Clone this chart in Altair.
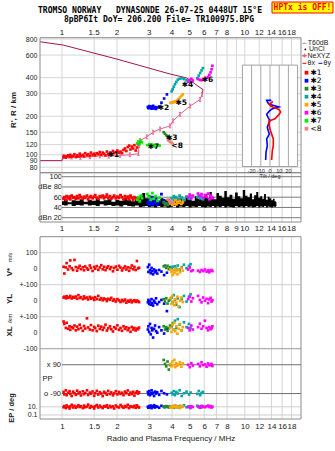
import altair as alt
import numpy as np
import pandas as pd

# ---------------- canvas layout (pixels) ----------------
W, H = 335, 451
X_LEFT, X_RIGHT = 40, 301
ION_TOP, ION_BOT = 37.7, 172.7
AMP_TOP, AMP_BOT = 172.7, 222.0
LOW_TOP, LOW_BOT = 236.7, 419.0

# ---------------- scale domains ----------------
F_MIN, F_MAX = 0.758, 20.3      # MHz
H_MIN, H_MAX = 72.5, 820.0      # km
A_MIN, A_MAX = 11.6, 107.8      # dB
T_MIN, T_MAX = 0.0, 11.39       # strip track units (1 unit = 100 m/s)

FREQ_TICKS = [1, 1.5, 2, 3, 4, 5, 6, 7, 8, 10, 12, 14, 16, 18]
FREQ_TICKS_AMP = [1, 1.5, 2, 3, 4, 5, 6, 7, 8, 9, 10, 12, 14, 16, 18]
HEIGHT_TICKS = [80, 90, 100, 120, 150, 200, 300, 400, 600, 800]
AMP_TICKS = [20, 40, 60, 80, 100]
TILT_TICKS = [-20, -10, 0, 10, 20]
STRIP_TICKS = [1, 2, 3, 4, 5, 6, 7, 10.63, 11.14]
STRIP_LABELS = ["100", "0", "+-100", "0", "+-100", "0", "-100", "10.", "0.1"]

# strip baselines
ROW_VSTAR, ROW_YL, ROW_XL, ROW_PP = 2.0, 4.0, 6.0, 8.9
EP_BASE, EP_DECADE = 11.14, 0.255

# ---------------- echo clusters ----------------
CLUSTER_NAMES = ["✱1", "✱2", "✱3", "✱4", "✱5", "✱6", "✱7", "<8"]
CLUSTER_COLORS = ["#ff0000", "#0000ff", "#238b23", "#00a5a5",
                  "#ffa500", "#ff00ff", "#00ee00", "#f08080"]

E1_FREQ = [1.02, 1.03, 1.05, 1.06, 1.08, 1.10, 1.11, 1.13, 1.15, 1.17,
           1.19, 1.21, 1.23, 1.25, 1.27, 1.30, 1.32, 1.34, 1.37, 1.39,
           1.42, 1.44, 1.47, 1.50, 1.52, 1.55, 1.58, 1.61, 1.64, 1.67,
           1.70, 1.73, 1.76, 1.79, 1.83, 1.86, 1.90, 1.93, 1.97, 2.01,
           2.05, 2.09, 2.13, 2.17, 2.21, 2.25, 2.29, 2.33, 2.37, 2.41,
           2.45, 2.49, 2.53, 2.57, 2.61, 2.64]
E1_HEIGHT = [96, 98, 95, 97, 99, 96, 100, 97, 98, 101,
             96, 99, 97, 102, 98, 100, 97, 103, 99, 101,
             98, 104, 100, 102, 99, 103, 101, 105, 100, 104,
             102, 99, 106, 101, 104, 102, 107, 103, 105, 108,
             104, 106, 103, 109, 112, 107, 115, 118, 110, 116,
             112, 119, 108, 114, 121, 126]
E1_DBE = [57, 60, 55, 62, 58, 61, 56, 63, 59, 60,
          57, 62, 58, 64, 60, 57, 61, 59, 63, 56,
          60, 62, 58, 61, 64, 59, 57, 62, 60, 63,
          58, 61, 65, 59, 62, 57, 60, 63, 58, 61,
          59, 64, 60, 56, 62, 58, 61, 57, 63, 59,
          55, 60, 58, 56, 59, 57]
E1_VSTAR = [12, -30, 8, 35, -5, 15, 52, 3, -8, 55,
            10, -12, 6, 18, -3, 9, -10, 14, 2, -6,
            20, 5, -14, 11, 0, 16, -7, 8, 22, -4,
            12, -9, 6, 15, -2, 10, -16, 4, 13, -6,
            18, 7, -11, 3, 14, -5, 9, -13, 5, 20,
            -3, 11, -8, 48, 2, 6]
E1_YL = [20, 25, 15, 28, 18, 22, 30, 14, 24, 19,
         26, 12, 35, 17, 22, 10, 27, 15, 20, 8,
         24, 13, 18, 5, 22, 10, 30, 7, 16, 3,
         14, 9, -2, 12, 6, 18, 0, 8, -5, 10,
         2, -8, 5, -3, 7, -12, 0, -6, 4, -10,
         -2, 3, -7, 1, -4, -9]
E1_XL = [70, 55, 30, 62, 25, 40, 18, 35, 28, 45,
         15, 38, 22, 50, 30, 12, 42, 26, 90, 33,
         20, 48, 15, 36, 28, 10, 44, 24, 38, 18,
         32, 50, 14, 28, 40, 22, 8, 35, 26, 46,
         18, 30, 12, 40, 24, 34, 16, 28, 6, 36,
         20, 30, 14, 26, 22, 32]
E1_PP = [-80, -95, -70, -100, -85, -75, -92, -105, -78, -88,
         -98, -72, -90, -82, -102, -76, -94, -86, -70, -99,
         -84, -91, -77, -104, -88, -73, -96, -81, -90, -106,
         -79, -87, -97, -74, -93, -83, -101, -89, -75, -95,
         -80, -92, -85, -100, -78, -88, -71, -97, -84, -93,
         -79, -103, -86, -76, -90, -82]
E1_EP = [8, 15, 5, 22, 10, 4, 12, 30, 7, 18,
         6, 11, 25, 9, 14, 5, 20, 8, 12, 35,
         6, 16, 10, 4, 13, 27, 7, 19, 9, 5,
         15, 11, 24, 6, 17, 8, 13, 4, 21, 10,
         7, 28, 12, 6, 16, 9, 32, 5, 14, 11,
         8, 18, 6, 23, 10, 7]

E2_FREQ = [2.95, 2.97, 3.00, 3.03, 3.06, 3.09, 3.12, 3.15, 3.19, 3.23, 3.27, 3.32, 3.40, 3.50, 3.62, 3.75]
E2_HEIGHT = [236, 231, 240, 233, 238, 229, 235, 241, 230, 236, 228, 234, 238, 255, 275, 296]
E2_DBE = [50, 47, 55, 45, 52, 48, 60, 46, 53, 49, 57, 45, 51, 66, 54, 48]
E2_VSTAR = [10, -20, 25, -10, -28, 5, -15, -35, -5, -22, -12, -30, -8, -18, -40, -25]
E2_YL = [-10, 5, -20, -5, -25, 10, -15, -30, 0, -12, 15, -22, -8, 5, -18, -65]
E2_XL = [20, 40, 5, 55, -10, 30, 15, -30, 25, 45, 10, 0, 35, 15, -5, 25]
E2_PP = [-80, -95, -75, -100, -88, -70, -92, -85, -105, -78, -90, -82, -98, -74, -88, -95]
E2_EP = [10, 6, 15, 8, 20, 5, 12, 9, 25, 7, 14, 11, 6, 18, 9, 13]

E3_FREQ = [3.60, 3.66, 3.72, 3.78, 3.84, 3.90]
E3_HEIGHT = [150, 146, 142, 139, 136, 133]
E3_DBE = [50, 46, 48, 45, 47, 49]
E3_VSTAR = [15, 20, 5, 18, -3, 10]
E3_YL = [10, -5, 15, -18, 0, 8]
E3_XL = [40, 20, 35, 12, 28, 45]
E3_PP = [120, 95, 80, 110, 60, 88]
E3_EP = [12, 8, 15, 10, 7, 14]

E4_FREQ = [3.98, 4.03, 4.09, 4.15, 4.22, 4.30, 4.40, 4.52, 4.65, 4.80, 4.95, 5.05, 5.50, 5.60, 5.70, 5.80, 5.90]
E4_HEIGHT = [313, 325, 340, 355, 370, 385, 392, 396, 390, 382, 376, 372, 396, 415, 435, 455, 475]
E4_DBE = [58, 55, 62, 57, 60, 56, 63, 59, 55, 61, 57, 62, 60, 63, 58, 61, 56]
E4_VSTAR = [5, 12, -8, 15, 0, 20, -5, 10, 25, 3, 18, 28, None, None, None, None, None]
E4_YL = [20, -10, 35, 5, -25, 15, -40, 10, 30, -5, 25, 40, None, None, None, None, None]
E4_XL = [40, 60, 20, 75, 30, 85, 50, 15, 65, 35, 55, 30, None, None, None, None, None]
E4_PP = [-85, -95, -75, -100, -80, -90, -70, -105, -88, -78, -96, -84, -92, -74, -100, -86, -80]
E4_EP = [9, 14, 6, 20, 11, 7, 16, 10, 25, 8, 13, 5, 18, 9, 12, 7, 15]

E5_FREQ = [3.92, 3.97, 4.02, 4.07, 4.12, 4.17, 4.22, 4.28, 4.34, 4.42, 4.50, 4.58]
E5_HEIGHT = [254, 256, 255, 258, 260, 259, 262, 265, 272, 280, 288, 296]
E5_DBE = [48, 52, 45, 50, 47, 54, 46, 51, 49, 53, 47, 50]
E5_VSTAR = [-5, -20, -40, -10, -28, 0, -15, -35, -8, -22, 5, -12]
E5_YL = [15, -20, 30, -5, -28, 10, -12, 25, -35, 0, 20, -8]
E5_XL = [30, 5, 50, 20, 62, 10, 40, -6, 25, 55, 15, 35]
E5_PP = [95, 80, 110, 88, 120, 75, 100, 85, 92, 105, 78, 98]
E5_EP = [8, 12, 6, 15, 10, 20, 7, 13, 9, 5, 16, 11]

E6_FREQ = [4.90, 5.00, 5.10, 5.20, 5.55, 5.68, 5.80, 5.92, 6.05, 6.18, 6.30, 6.40, 6.50, 6.58, 6.65]
E6_HEIGHT = [372, 385, 392, 380, 390, 385, 382, 388, 392, 398, 405, 420, 440, 465, 495]
E6_DBE = [60, 65, 58, 63, 67, 62, 66, 59, 64, 61, 67, 56, 63, 60, 58]
E6_VSTAR = [-5, 8, -15, -10, -12, -20, -8, -15, -5, -18, -10, -22, -12, -8, -15]
E6_YL = [10, 25, -5, 15, 30, 5, -10, 20, 0, 12, -15, 8, 18, -5, 3]
E6_XL = [30, 15, 45, 20, 35, 56, 25, 40, 75, 30, 15, 35, 22, 28, 40]
E6_PP = [90, 75, 100, 85, 95, 80, 105, 88, 92, 78, 98, 86, 90, 95, 82]
E6_EP = [10, 7, 14, 9, 12, 6, 16, 11, 8, 13, 20, 9, 15, 7, 11]

E7_FREQ = [2.58, 2.62, 2.66, 2.70, 2.74, 2.93, 3.00, 3.06, 3.12, 3.18, 3.25, 3.33, 3.42]
E7_HEIGHT = [123, 127, 121, 129, 125, 119, 121, 117, 120, 118, 116, 119, 118]
E7_DBE = [55, 60, 52, 63, 58, 66, 60, 55, 68, 57, 62, 53, 59]

E8_FREQ = [3.80, 3.86, 3.92, 3.98, 4.04]
E8_HEIGHT = [130, 128, 126, 124, 122]
E8_DBE = [55, 52, 50, 53, 49]

# cluster tags placed beside each trace
TAG_FREQ = [1.87, 3.51, 3.90, 4.75, 4.39, 6.12, 3.10, 4.17]
TAG_HEIGHT = [98.8, 230, 136, 353, 255, 381, 115, 118]

# ---------------- profiles ----------------
PROFILE_HI_FREQ = [0.758, 1.013, 2.0, 3.90, 4.81, 5.55, 5.91, 5.84]
PROFILE_HI_HEIGHT = [762, 719, 558, 427, 398, 343, 323, 296]
PROFILE_LO_FREQ = [0.758, 1.0, 1.01]
PROFILE_LO_HEIGHT = [90, 90, 96.5]
NEXYZ_FREQ = [1.01, 1.13, 1.26, 1.42, 1.61, 1.80, 2.08, 2.35, 2.62, 2.64,
              2.67, 2.91, 3.15, 3.44, 3.90, 4.05, 4.42, 5.02, 5.69, 5.84]
NEXYZ_HEIGHT = [96.5, 96, 95.5, 96.5, 98, 97.5, 99, 100, 102, 118,
                129, 138, 150, 159, 168, 184, 207, 240, 270, 296]

# ---------------- tilt inset ----------------
TILT_X_HEIGHT = [91, 108, 118, 133, 145, 158, 168, 184, 187, 191, 203, 216, 224, 230, 235, 240, 248, 255, 262]
TILT_X_DEG = [1.8, 2.5, 3.6, 3.6, 1.8, 0.0, -0.8, -1.1, 1.8, 5.4, 9.0, 11.6, 10.1, 7.3, 3.6, 0.8, -0.8, 1.8, 2.9]
TILT_Y_HEIGHT = [91, 105, 118, 133, 145, 155, 164, 175, 184, 195, 207, 218, 227, 232, 236, 240, 248, 256, 266, 266]
TILT_Y_DEG = [-4.7, -4.3, -2.9, -3.6, -0.8, -2.0, -2.9, -1.5, 0.0, -2.0,
              -3.6, -1.0, 1.8, 5.0, 9.5, 6.0, -0.8, -2.5, -3.6, 1.5]
INSET_TILT = (-30, 30)
INSET_HEIGHT = (81, 501)
INSET_PX = (242.4, 297.6)

# ---------------- amplitude noise trace ----------------
NOISE_FREQ = [1.00, 1.05, 1.10, 1.16, 1.22, 1.28, 1.35, 1.42, 1.49, 1.57,
              1.65, 1.73, 1.82, 1.91, 2.01, 2.11, 2.22, 2.33, 2.45, 2.57,
              2.70, 2.80, 2.90, 3.00, 3.12, 3.25, 3.38, 3.52, 3.66, 3.81,
              3.96, 4.12, 4.29, 4.46, 4.64, 4.83, 5.02, 5.22, 5.43, 5.65,
              5.88, 6.10, 6.30, 6.50, 6.70, 6.90, 7.10, 7.35, 7.60, 7.85,
              8.10, 8.40, 8.70, 9.00, 9.30, 9.60, 9.90, 10.2, 10.5, 10.8,
              11.1, 11.4, 11.7, 12.0, 12.3, 12.6, 12.9, 13.2, 13.5, 13.8,
              14.1, 14.4, 14.7, 14.9]
NOISE_TOP = [52, 55, 50, 54, 53, 56, 51, 55, 53, 57,
             52, 54, 56, 51, 55, 53, 58, 54, 52, 56,
             62, 68, 58, 64, 55, 60, 52, 58, 54, 57,
             53, 56, 54, 58, 52, 60, 56, 53, 62, 57,
             55, 66, 58, 70, 61, 56, 68, 63, 59, 72,
             60, 65, 57, 69, 62, 58, 74, 63, 60, 67,
             56, 64, 70, 59, 62, 57, 66, 55, 61, 58,
             54, 57, 52, 50]
NOISE_BOTTOM = [45, 44, 46, 43, 45, 44, 46, 44, 45, 43,
                46, 44, 45, 43, 44, 42, 45, 43, 42, 44,
                41, 42, 43, 41, 42, 40, 43, 41, 42, 40,
                41, 43, 40, 42, 41, 43, 40, 42, 41, 43,
                41, 40, 42, 41, 43, 40, 42, 41, 43, 40,
                42, 41, 40, 43, 41, 42, 40, 43, 41, 42,
                40, 41, 43, 40, 42, 41, 43, 40, 42, 41,
                40, 42, 41, 43]

# ---------------- styling ----------------
FONT = "Liberation Sans"
MONO = "DejaVu Sans Mono"
SYMF = "DejaVu Sans"
TXT = "#202020"
GRID = "#d6d6d6"
FRAME = "#8a8a8a"
MAROON = "#a3164e"
PINK = "#e2628c"


def freq_at(px):
    frac = (px - X_LEFT) / (X_RIGHT - X_LEFT)
    return F_MIN * (F_MAX / F_MIN) ** frac


INSET_F0, INSET_F1 = freq_at(INSET_PX[0]), freq_at(INSET_PX[1])


def tilt_to_freq(t):
    lo, hi = np.log10(INSET_F0), np.log10(INSET_F1)
    span = INSET_TILT[1] - INSET_TILT[0]
    return 10 ** (lo + (np.asarray(t, dtype=float) - INSET_TILT[0]) / span * (hi - lo))


def echo_table(name, freq, height, dbe, vstar=None, yl=None, xl=None, pp=None, ep=None):
    n = len(freq)
    blank = [None] * n
    return pd.DataFrame({
        "cluster": name, "freq": freq, "h": height, "dbe": dbe,
        "vstar": vstar or blank, "yl": yl or blank, "xl": xl or blank,
        "pp": pp or blank, "ep": ep or blank,
    })


echoes = pd.concat([
    echo_table("✱1", E1_FREQ, E1_HEIGHT, E1_DBE, E1_VSTAR, E1_YL, E1_XL, E1_PP, E1_EP),
    echo_table("✱2", E2_FREQ, E2_HEIGHT, E2_DBE, E2_VSTAR, E2_YL, E2_XL, E2_PP, E2_EP),
    echo_table("✱3", E3_FREQ, E3_HEIGHT, E3_DBE, E3_VSTAR, E3_YL, E3_XL, E3_PP, E3_EP),
    echo_table("✱4", E4_FREQ, E4_HEIGHT, E4_DBE, E4_VSTAR, E4_YL, E4_XL, E4_PP, E4_EP),
    echo_table("✱5", E5_FREQ, E5_HEIGHT, E5_DBE, E5_VSTAR, E5_YL, E5_XL, E5_PP, E5_EP),
    echo_table("✱6", E6_FREQ, E6_HEIGHT, E6_DBE, E6_VSTAR, E6_YL, E6_XL, E6_PP, E6_EP),
    echo_table("✱7", E7_FREQ, E7_HEIGHT, E7_DBE),
    echo_table("<8", E8_FREQ, E8_HEIGHT, E8_DBE),
], ignore_index=True)
for col in ["vstar", "yl", "xl", "pp", "ep"]:
    echoes[col] = pd.to_numeric(echoes[col])

# parameter strips stacked on one track axis
strip_parts = []
for col, base in [("vstar", ROW_VSTAR), ("yl", ROW_YL), ("xl", ROW_XL), ("pp", ROW_PP)]:
    d = echoes[["cluster", "freq", col]].dropna().copy()
    d["t"] = base - d[col] / 100.0
    strip_parts.append(d[["cluster", "freq", "t"]])
d = echoes[["cluster", "freq", "ep"]].dropna().copy()
d["t"] = EP_BASE - EP_DECADE * (np.log10(d["ep"]) + 1)
strip_parts.append(d[["cluster", "freq", "t"]])
strips = pd.concat(strip_parts, ignore_index=True)

# ---------------- scales / axes ----------------
x_scale = alt.Scale(type="log", domain=[F_MIN, F_MAX], range=[X_LEFT, X_RIGHT], nice=False)
x_axis = alt.Axis(orient="bottom", offset=-(H - LOW_BOT), values=FREQ_TICKS, format="~g",
                  title="Radio and Plasma Frequency / MHz", domain=False, ticks=False, grid=False,
                  labelFontSize=8, labelPadding=3, labelOverlap=False, labelFlush=False,
                  labelColor=TXT, titleColor=TXT, titleFontSize=8, titleFontWeight="normal",
                  titlePadding=4)


def X(field):
    return alt.X(field, type="quantitative", scale=x_scale, axis=x_axis)


y1_scale = alt.Scale(type="log", domain=[H_MIN, H_MAX], range=[ION_BOT, ION_TOP], nice=False)
y1_axis = alt.Axis(orient="left", offset=-X_LEFT, values=HEIGHT_TICKS, format="~g", title=None,
                   domain=False, ticks=False, grid=False, labelFontSize=7, labelPadding=3,
                   labelOverlap=False, labelColor=TXT)
y2_scale = alt.Scale(domain=[A_MIN, A_MAX], range=[AMP_BOT, AMP_TOP], nice=False, zero=False)
y2_axis = alt.Axis(orient="left", offset=-62.5, values=AMP_TICKS, title=None,
                   labelExpr="datum.value == 80 ? 'dBe 80' : datum.value == 20 ? 'dBn 20' : datum.label",
                   domain=False, ticks=False, grid=False, labelFontSize=7.5, labelPadding=1,
                   labelOverlap=False, labelColor=TXT)
strip_expr = "''"
for v, s in reversed(list(zip(STRIP_TICKS, STRIP_LABELS))):
    strip_expr = f"datum.value == {v} ? '{s}' : ({strip_expr})"
y3_scale = alt.Scale(domain=[T_MIN, T_MAX], range=[LOW_TOP, LOW_BOT], nice=False, zero=False)
y3_axis = alt.Axis(orient="left", offset=-X_LEFT, values=STRIP_TICKS, title=None, labelExpr=strip_expr,
                   domain=False, ticks=False, grid=False, labelFontSize=7, labelPadding=3,
                   labelOverlap=False, labelColor=TXT)


def Y1(field):
    return alt.Y(field, type="quantitative", scale=y1_scale, axis=y1_axis)


def Y2(field):
    return alt.Y(field, type="quantitative", scale=y2_scale, axis=y2_axis)


def Y3(field):
    return alt.Y(field, type="quantitative", scale=y3_scale, axis=y3_axis)


color_enc = alt.Color("cluster:N", scale=alt.Scale(domain=CLUSTER_NAMES, range=CLUSTER_COLORS), legend=None)


def vgrid(ticks, lo, hi):
    return pd.DataFrame({"freq": ticks, "lo": lo, "hi": hi})


def hgrid(values, f0=F_MIN, f1=F_MAX):
    return pd.DataFrame({"v": values, "f0": f0, "f1": f1})


def frame(lo, hi):
    return pd.DataFrame({"f0": [F_MIN], "f1": [F_MAX], "lo": [lo], "hi": [hi]})


# ---------------- ionogram panel ----------------
profile = pd.concat([
    pd.DataFrame({"freq": PROFILE_HI_FREQ, "h": PROFILE_HI_HEIGHT, "seg": "hi"}),
    pd.DataFrame({"freq": PROFILE_LO_FREQ, "h": PROFILE_LO_HEIGHT, "seg": "lo"}),
], ignore_index=True)
profile["i"] = range(len(profile))
nexyz = pd.DataFrame({"freq": NEXYZ_FREQ, "h": NEXYZ_HEIGHT, "i": range(len(NEXYZ_FREQ))})
tags = pd.DataFrame({"tag": CLUSTER_NAMES, "freq": TAG_FREQ, "h": TAG_HEIGHT})

inset_box = pd.DataFrame({"f0": [INSET_F0], "f1": [INSET_F1], "lo": [INSET_HEIGHT[0]], "hi": [INSET_HEIGHT[1]]})
inset_grid = vgrid(tilt_to_freq(TILT_TICKS), INSET_HEIGHT[0], INSET_HEIGHT[1])
tilt_x = pd.DataFrame({"freq": tilt_to_freq(TILT_X_DEG), "h": TILT_X_HEIGHT, "i": range(len(TILT_X_DEG))})
tilt_y = pd.DataFrame({"freq": tilt_to_freq(TILT_Y_DEG), "h": TILT_Y_HEIGHT, "i": range(len(TILT_Y_DEG))})

IBEAM = "M0,-1L0,1M-0.6,-1L0.6,-1M-0.6,1L0.6,1"

panel1 = alt.layer(
    alt.Chart(hgrid(HEIGHT_TICKS)).mark_rule(color=GRID).encode(x=X("f0"), x2=alt.X2("f1"), y=Y1("v")),
    alt.Chart(vgrid(FREQ_TICKS_AMP, H_MIN, H_MAX)).mark_rule(color=GRID).encode(
        x=X("freq"), y=Y1("lo"), y2=alt.Y2("hi")),
    # tilt inset
    alt.Chart(inset_box).mark_rect(fill="white", stroke="#a0a0a0", strokeWidth=1).encode(
        x=X("f0"), x2=alt.X2("f1"), y=Y1("lo"), y2=alt.Y2("hi")),
    alt.Chart(inset_grid).mark_rule(color="#a8a8a8").encode(x=X("freq"), y=Y1("lo"), y2=alt.Y2("hi")),
    alt.Chart(tilt_y).mark_line(color="#0000ff", strokeWidth=1.6).encode(x=X("freq"), y=Y1("h"), order="i:Q"),
    alt.Chart(tilt_x).mark_line(color="#ff0000", strokeWidth=1.6).encode(x=X("freq"), y=Y1("h"), order="i:Q"),
    # profiles
    alt.Chart(profile).mark_line(color=MAROON, strokeWidth=1).encode(
        x=X("freq"), y=Y1("h"), detail="seg:N", order="i:Q"),
    alt.Chart(nexyz).mark_line(color=PINK, strokeWidth=1).encode(x=X("freq"), y=Y1("h"), order="i:Q"),
    alt.Chart(nexyz).mark_point(shape=IBEAM, size=14, filled=False, color=PINK, strokeWidth=1, opacity=1).encode(
        x=X("freq"), y=Y1("h")),
    # echoes
    alt.Chart(echoes).mark_square(size=7, opacity=1).encode(x=X("freq"), y=Y1("h"), color=color_enc),
    alt.Chart(tags).mark_text(align="left", dx=-4, fontSize=7.5, font=SYMF, fontWeight="bold",
                              color="black").encode(x=X("freq"), y=Y1("h"), text="tag:N"),
    alt.Chart(frame(H_MIN, H_MAX)).mark_rect(fillOpacity=0, stroke=FRAME, strokeWidth=1).encode(
        x=X("f0"), x2=alt.X2("f1"), y=Y1("lo"), y2=alt.Y2("hi")),
)

# ---------------- amplitude panel ----------------
noise = pd.DataFrame({"freq": NOISE_FREQ, "top": NOISE_TOP, "bottom": NOISE_BOTTOM})
panel2 = alt.layer(
    alt.Chart(vgrid(FREQ_TICKS_AMP, A_MIN, A_MAX)).mark_rule(color=GRID).encode(
        x=X("freq"), y=Y2("lo"), y2=alt.Y2("hi")),
    alt.Chart(hgrid(AMP_TICKS, f0=1.0)).mark_rule(color="#7a7a7a").encode(x=X("f0"), x2=alt.X2("f1"), y=Y2("v")),
    alt.Chart(noise).mark_area(color="black", opacity=1, interpolate="step").encode(
        x=X("freq"), y=Y2("top"), y2=alt.Y2("bottom")),
    alt.Chart(echoes).mark_square(size=8, opacity=1).encode(x=X("freq"), y=Y2("dbe"), color=color_enc),
    alt.Chart(frame(A_MIN, A_MAX)).mark_rect(fillOpacity=0, stroke=FRAME, strokeWidth=1).encode(
        x=X("f0"), x2=alt.X2("f1"), y=Y2("lo"), y2=alt.Y2("hi")),
)

# ---------------- parameter strips ----------------
pp_marks = pd.DataFrame({"freq": [1.0, 1.0], "v": [ROW_PP - 0.9, ROW_PP + 0.9], "txt": ["x 90", "o -90"]})
pp_name = pd.DataFrame({"v": [ROW_PP], "txt": ["PP"]})
panel3 = alt.layer(
    alt.Chart(vgrid(FREQ_TICKS, T_MIN, T_MAX)).mark_rule(color=GRID).encode(
        x=X("freq"), y=Y3("lo"), y2=alt.Y2("hi")),
    alt.Chart(hgrid([1, 3, 5, 10.63, 11.14])).mark_rule(color="#cfcfcf").encode(
        x=X("f0"), x2=alt.X2("f1"), y=Y3("v")),
    alt.Chart(hgrid([7])).mark_rule(color="#9a9a9a").encode(x=X("f0"), x2=alt.X2("f1"), y=Y3("v")),
    alt.Chart(hgrid([ROW_PP - 0.9, ROW_PP + 0.9], f0=1.0)).mark_rule(color="#6e6e6e").encode(
        x=X("f0"), x2=alt.X2("f1"), y=Y3("v")),
    alt.Chart(strips).mark_square(size=7, opacity=1).encode(x=X("freq"), y=Y3("t"), color=color_enc),
    alt.Chart(pp_marks).mark_text(align="right", dx=-1, fontSize=7.5, font=FONT, color=TXT).encode(
        x=X("freq"), y=Y3("v"), text="txt:N"),
    alt.Chart(pp_name).mark_text(align="left", fontSize=7.5, font=FONT, color=TXT).encode(
        x=alt.value(42.5), y=Y3("v"), text="txt:N"),
    alt.Chart(frame(T_MIN, T_MAX)).mark_rect(fillOpacity=0, stroke=FRAME, strokeWidth=1).encode(
        x=X("f0"), x2=alt.X2("f1"), y=Y3("lo"), y2=alt.Y2("hi")),
)

# ---------------- cluster key ----------------
key_df = pd.DataFrame({"cluster": CLUSTER_NAMES})
key_y = alt.Y("cluster:N", scale=alt.Scale(type="point", domain=CLUSTER_NAMES, range=[72.7, 128.7], padding=0),
              axis=None)
key_layer = alt.layer(
    alt.Chart(key_df).mark_square(size=14, opacity=1).encode(x=alt.value(306.5), y=key_y, color=color_enc),
    alt.Chart(key_df).mark_text(align="left", fontSize=7.5, font=SYMF, color="black").encode(
        x=alt.value(310.5), y=key_y, text="cluster:N"),
)


# ---------------- annotations ----------------
def note(text, x, y, size=8, weight="normal", align="center", angle=0, color=TXT, font=FONT):
    return alt.Chart(pd.DataFrame({"txt": [text]})).mark_text(
        fontSize=size, fontWeight=weight, align=align, angle=angle, color=color, font=font,
        baseline="middle").encode(x=alt.value(x), y=alt.value(y), text="txt:N")


def swatch(x0, x1, y, color):
    return alt.Chart(pd.DataFrame({"k": [0]})).mark_rule(color=color, strokeWidth=1).encode(
        x=alt.value(x0), x2=alt.value(x1), y=alt.value(y))


freq_lab = pd.DataFrame({"freq": FREQ_TICKS, "lab": [f"{v:g}" for v in FREQ_TICKS]})
freq_lab_amp = pd.DataFrame({"freq": FREQ_TICKS_AMP, "lab": [f"{v:g}" for v in FREQ_TICKS_AMP]})
tilt_lab = pd.DataFrame({"freq": tilt_to_freq(TILT_TICKS), "lab": [str(v) for v in TILT_TICKS]})

deco = alt.layer(
    note("TROMSO NORWAY\u00a0\u00a0\u00a0DYNASONDE 26-07-25 0448UT 15°E", 150, 11.2, size=8.1, weight="bold",
         font=MONO, color="black"),
    note("8pBP6It DoY= 206.200 File= TR100975.BPG", 159, 20, size=8.1, weight="bold", font=MONO,
         color="black"),
    alt.Chart(pd.DataFrame({"k": [0]})).mark_rect(fill="#ffff00", stroke="#ff0000", strokeWidth=1).encode(
        x=alt.value(272), x2=alt.value(333), y=alt.value(2), y2=alt.value(13)),
    note("HPTx is OFF!", 302.5, 7.6, size=8, weight="bold", font=MONO, color="#ff0000"),
    alt.Chart(freq_lab).mark_text(fontSize=8, font=FONT, color=TXT, baseline="middle").encode(
        x=X("freq"), y=alt.value(33), text="lab:N"),
    alt.Chart(freq_lab_amp).mark_text(fontSize=8, font=FONT, color=TXT, baseline="middle").encode(
        x=X("freq"), y=alt.value(229), text="lab:N"),
    alt.Chart(tilt_lab).mark_text(fontSize=5.5, font=FONT, color=TXT, baseline="middle").encode(
        x=X("freq"), y=alt.value(170.6), text="lab:N"),
    note("Tilt / deg", float((INSET_PX[0] + INSET_PX[1]) / 2), 175.8, size=5.5),
    note("R', R / km", 14, 110, weight="bold", angle=270),
    note("V*", 10, 272, weight="bold", angle=270),
    note("m/s", 10, 257.5, size=6, angle=270),
    note("YL", 10, 299, weight="bold", angle=270),
    note("/km", 10, 318.5, size=6, angle=270),
    note("XL", 10, 331.5, weight="bold", angle=270),
    note("EP / deg", 11.5, 408, size=7.5, weight="bold", angle=270),
    # line / symbol key
    swatch(302.5, 306.5, 43.3, "#9a9a9a"),
    note("T60dB", 307.8, 43.3, size=7, align="left"),
    alt.Chart(pd.DataFrame({"k": [0]})).mark_circle(size=3, color="black", opacity=1).encode(
        x=alt.value(305.3), y=alt.value(49.4)),
    note("UnCl", 309, 49.4, size=7, align="left"),
    swatch(302, 307, 55.7, PINK),
    alt.Chart(pd.DataFrame({"k": [0]})).mark_point(shape="cross", size=14, color=PINK, filled=True,
                                                   opacity=1).encode(x=alt.value(304.5), y=alt.value(55.7)),
    note("NeXYZ", 307.5, 55.7, size=7, align="left"),
    swatch(302.5, 306.5, 63.3, "#ff0000"),
    note("θx", 307.5, 63.3, size=7, align="left"),
    swatch(318.5, 322.5, 63.3, "#0000ff"),
    note("θy", 323.5, 63.3, size=7, align="left"),
)

chart = alt.layer(panel1, panel2, panel3, key_layer, deco).resolve_scale(
    y="independent"
).properties(
    width=W, height=H, padding=0, background="white",
    autosize=alt.AutoSizeParams(type="none"),
).configure_view(stroke=None)

chart.save("out.html", embed_options={"renderer": "svg", "actions": False})
